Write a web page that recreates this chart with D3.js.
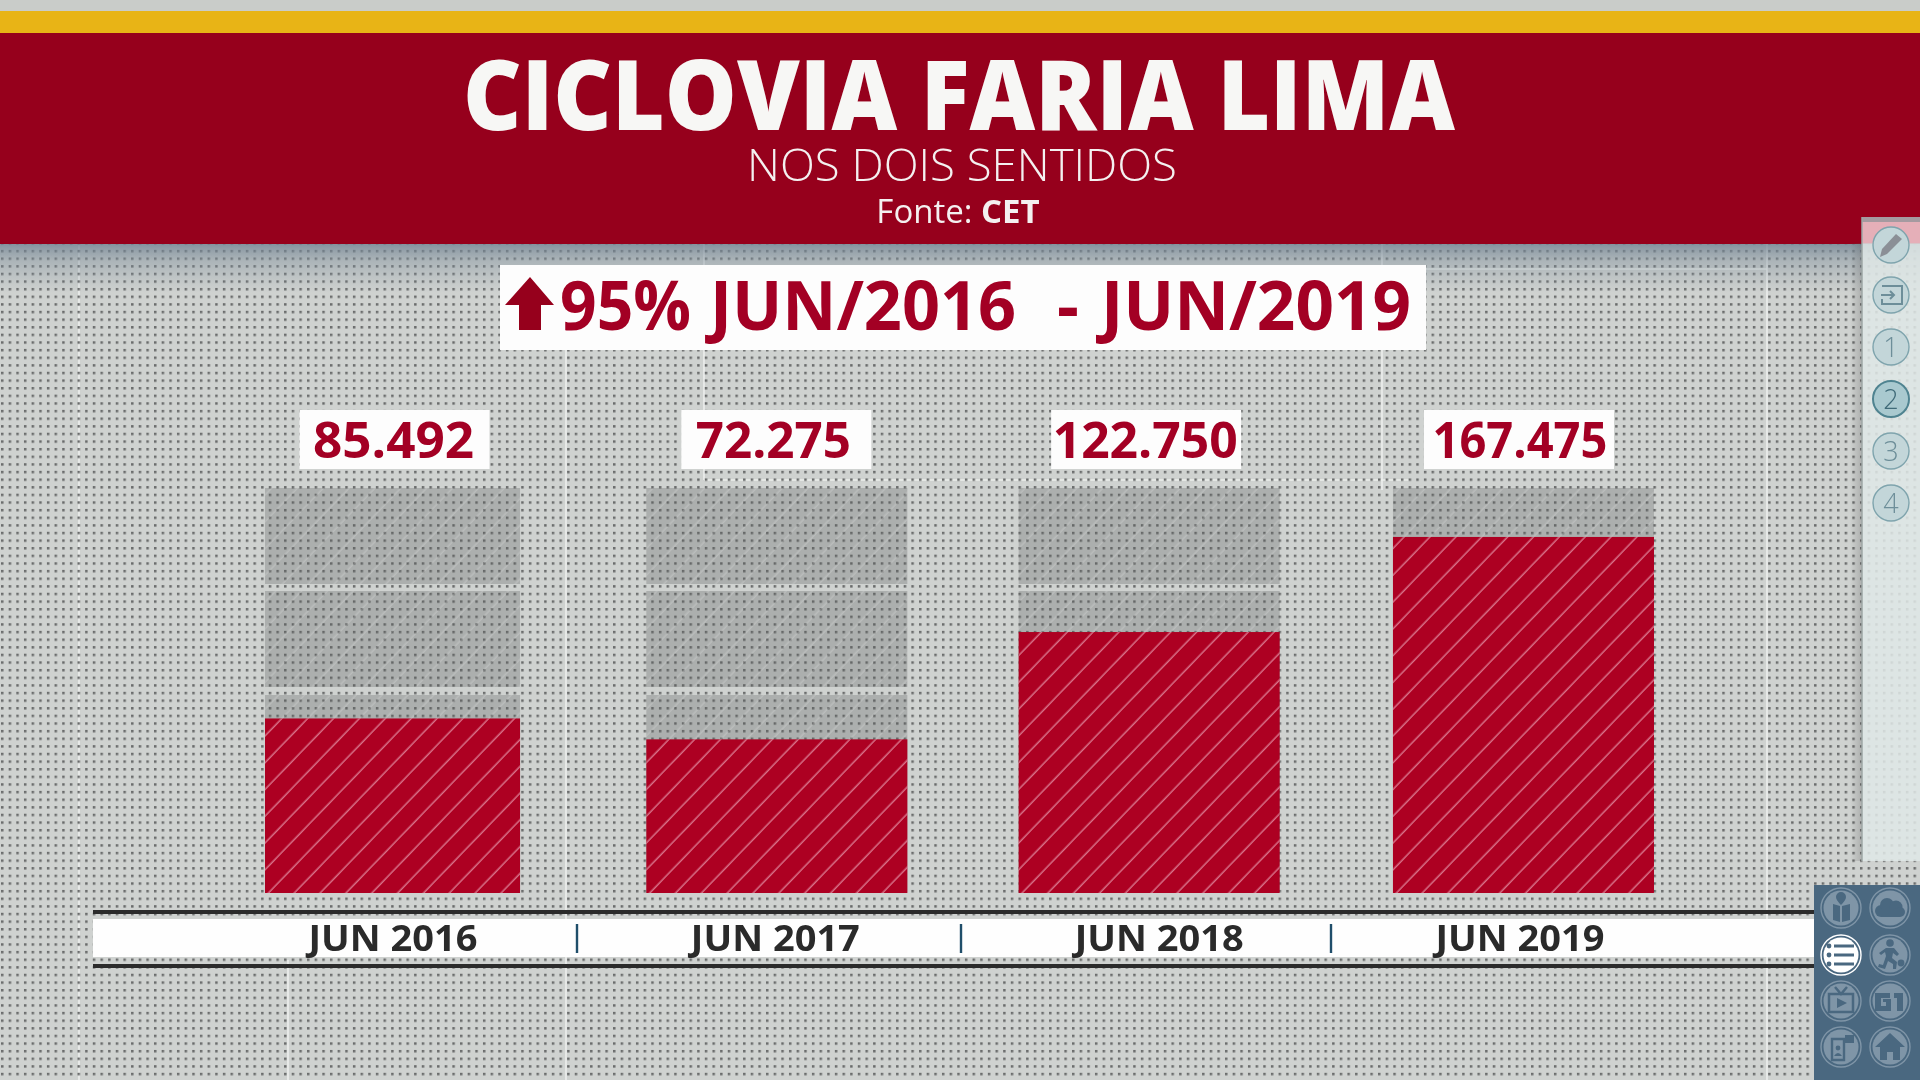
<!DOCTYPE html>
<html><head><meta charset="utf-8">
<script src="https://cdn.jsdelivr.net/npm/d3@7/dist/d3.min.js"></script>
<style>
html,body{margin:0;padding:0;background:#cdd0ce;overflow:hidden}
svg{display:block;filter:blur(.55px)}
text{font-family:"Open Sans",sans-serif}
</style></head><body>
<svg id="c" width="1920" height="1080"></svg>
<script>
// ---- data ----
const categories = ["JUN 2016","JUN 2017","JUN 2018","JUN 2019"];
const valueLabels = ["85.492","72.275","122.750","167.475"];
// heights, in cyclists per month (2016 is drawn a little short of its label)
const drawnValues = [82100,72275,122750,167475];
const trackBandTops = [190500,142050,93130];
const trackBandBottoms = [145340,96900,0];
const title = "CICLOVIA FARIA LIMA";
const subtitle = "NOS DOIS SENTIDOS";
const sourceLabel = "Fonte: ";
const sourceName = "CET";
const calloutParts = ["95%","JUN/2016","-","JUN/2019"];
const sideSteps = ["1","2","3","4"];
const activeStep = "2";

// ---- layout ----
const W=1920,H=1080;
const barNudge=[0,5,1,-1], barWiden=[-5,1,1,1];
const valueBoxNudge=[-0.5,-1,-3,-4], valueTextNudge=[-1,-3,-1,1];
const axisNudge=[-2,-2,10,-3];
const calloutX=[560,710,1057,1101], calloutW=[131,306,0,310];
const svg=d3.select("#c");
const x=d3.scaleBand().domain(categories).range([265,1654]).paddingInner(.309);
const y=d3.scaleLinear().domain([0,190500]).range([893,488]);
const RED="#96001c",BAR="#ad0022",INK="#a30024";
const defs=svg.append("defs");

const dots=defs.append("pattern").attr("id","dots").attr("patternUnits","userSpaceOnUse")
  .attr("width",7.65).attr("height",7.62).attr("x",1).attr("y",6);
dots.append("rect").attr("width",2.5).attr("height",2.5).attr("fill","#6a6c6c");

function hatch(id,col,op,w){
  const p=defs.append("pattern").attr("id",id).attr("patternUnits","userSpaceOnUse")
    .attr("width",18.6).attr("height",18.6).attr("patternTransform","rotate(-46) translate(3,0)");
  p.append("line").attr("x1",0).attr("x2",18.6).attr("y1",9).attr("y2",9)
    .attr("stroke",col).attr("stroke-opacity",op).attr("stroke-width",w);
}
hatch("hatchRed","#f2b6c6",.72,1.3);
hatch("hatchGrey","#ffffff",.2,1.3);

const sh=defs.append("linearGradient").attr("id","shadow").attr("x1",0).attr("x2",0).attr("y1",0).attr("y2",1);
sh.append("stop").attr("offset",0).attr("stop-color","#6f8191").attr("stop-opacity",.8);
sh.append("stop").attr("offset",.35).attr("stop-color","#7f8f9b").attr("stop-opacity",.45);
sh.append("stop").attr("offset",1).attr("stop-color","#8a98a2").attr("stop-opacity",0);
const ps=defs.append("linearGradient").attr("id","panelShadow");
ps.append("stop").attr("offset",0).attr("stop-color","#555").attr("stop-opacity",0);
ps.append("stop").attr("offset",1).attr("stop-color","#555").attr("stop-opacity",.28);

// background
svg.append("rect").attr("width",W).attr("height",H).attr("fill","#cfd2d0");
const guides=svg.append("g").attr("stroke","#f1f3f1").attr("stroke-width",1.6).attr("stroke-opacity",.85);
[[79,243,79,1080],[566,350,566,1080],[704,243,704,480],[1382,243,1382,490],[1767,243,1767,1080],[288,960,288,1080]]
 .concat([[704,480,1410,480],[1382,269,1767,269]])
 .forEach(g=>guides.append("line").attr("x1",g[0]).attr("y1",g[1]).attr("x2",g[2]).attr("y2",g[3]));
svg.append("rect").attr("y",243).attr("width",W).attr("height",H-243).attr("fill","url(#dots)");

// header
svg.append("rect").attr("width",W).attr("height",11).attr("fill","#c9ccc9");
svg.append("rect").attr("y",11).attr("width",W).attr("height",22).attr("fill","#e8b416");
svg.append("rect").attr("y",243).attr("width",W).attr("height",50).attr("fill","url(#shadow)");
svg.append("rect").attr("y",33).attr("width",W).attr("height",211).attr("fill",RED);
svg.append("text").attr("x",959).attr("y",130).attr("text-anchor","middle").attr("font-size",98).attr("font-weight",800)
  .attr("fill","#f7f7f5").attr("textLength",992).attr("lengthAdjust","spacingAndGlyphs").text(title);
svg.append("text").attr("x",962).attr("y",181).attr("text-anchor","middle").attr("font-size",45).attr("font-weight",300)
  .attr("fill","#f4f0f0").attr("textLength",430).attr("lengthAdjust","spacingAndGlyphs").text(subtitle);
const src=svg.append("text").attr("x",958).attr("y",223).attr("text-anchor","middle").attr("font-size",33).attr("fill","#f4f0f0");
src.append("tspan").attr("font-weight",400).text(sourceLabel);
src.append("tspan").attr("font-weight",700).text(sourceName);

// callout
svg.append("rect").attr("x",500).attr("y",265).attr("width",926).attr("height",85).attr("fill","#fdfdfd");
svg.append("path").attr("fill",RED).attr("d","M530 277L554 305H541V330H519V305H505Z");
calloutParts.forEach((t,i)=>{
  const e=svg.append("text").attr("x",calloutX[i]).attr("y",330).attr("font-size",68).attr("font-weight",700).attr("fill",INK).text(t);
  if(calloutW[i]) e.attr("textLength",calloutW[i]).attr("lengthAdjust","spacingAndGlyphs");
});

// tracks and bars
const bw=i=>x.bandwidth()+barWiden[i];
const bars=svg.append("g").selectAll("g").data(categories).join("g")
  .attr("transform",(d,i)=>`translate(${x(d)+barNudge[i]},0)`);
trackBandTops.forEach((t,k)=>{
  bars.append("rect").attr("width",(d,i)=>bw(i)).attr("y",y(t)).attr("height",y(trackBandBottoms[k])-y(t))
    .attr("fill","#5e605f").attr("fill-opacity",.3);
  bars.append("rect").attr("width",(d,i)=>bw(i)).attr("y",y(t)).attr("height",y(trackBandBottoms[k])-y(t))
    .attr("fill","url(#hatchGrey)");
});
bars.append("rect").attr("width",(d,i)=>bw(i)).attr("y",(d,i)=>y(drawnValues[i])).attr("height",(d,i)=>y(0)-y(drawnValues[i])).attr("fill",BAR);
bars.append("rect").attr("width",(d,i)=>bw(i)).attr("y",(d,i)=>y(drawnValues[i])).attr("height",(d,i)=>y(0)-y(drawnValues[i])).attr("fill","url(#hatchRed)");

// value labels
const vl=svg.append("g").selectAll("g").data(categories).join("g")
  .attr("transform",(d,i)=>`translate(${x(d)+x.bandwidth()/2+valueBoxNudge[i]+[0,6,1.5,-1][i]},0)`);
vl.append("rect").attr("x",-95).attr("y",410).attr("width",190).attr("height",59).attr("fill","#fdfdfd");
vl.append("text").attr("text-anchor","middle").attr("x",(d,i)=>valueTextNudge[i]).attr("y",458).attr("font-size",50).attr("font-weight",700).attr("fill",INK)
  .attr("textLength",(d,i)=>[161,155,185,175][i]).attr("lengthAdjust","spacingAndGlyphs")
  .text((d,i)=>valueLabels[i]);

// axis strip
svg.append("rect").attr("x",93).attr("y",919).attr("width",1722).attr("height",38).attr("fill","#fefefe");
[912,966].forEach(v=>svg.append("rect").attr("x",93).attr("y",v-2).attr("width",1722).attr("height",4).attr("fill","#2b2b2b"));
const axis=svg.append("g").attr("transform","translate(0,951)").call(d3.axisBottom(x).tickSize(0).tickPadding(0));
axis.select(".domain").remove();
axis.selectAll("text").attr("dy",0).attr("y",0).attr("font-size",35).attr("font-weight",700).attr("fill","#2a2a2a")
  .attr("font-family","'Open Sans',sans-serif")
  .attr("transform",(d,i)=>`translate(${[0,6,1.5,-1][i]+axisNudge[i]},0)`)
  .attr("textLength",169).attr("lengthAdjust","spacingAndGlyphs");
[577,961,1331].forEach(sx=>{
  svg.append("line").attr("x1",sx).attr("x2",sx).attr("y1",924).attr("y2",953).attr("stroke","#1f4e6a").attr("stroke-width",2.4);
});

// right side panel
svg.append("rect").attr("x",1850).attr("y",243).attr("width",12).attr("height",618).attr("fill","url(#panelShadow)");
svg.append("rect").attr("x",1862).attr("y",217).attr("width",58).attr("height",644).attr("fill","#dfe8e6").attr("fill-opacity",.86);
svg.append("rect").attr("x",1862).attr("y",217).attr("width",58).attr("height",5).attr("fill","#a59aa0");
svg.append("rect").attr("x",1862).attr("y",222).attr("width",58).attr("height",21).attr("fill","#e9a9b3").attr("fill-opacity",.8);
svg.append("line").attr("x1",1862).attr("x2",1862).attr("y1",217).attr("y2",861).attr("stroke","#9ea7a6").attr("stroke-width",1.5);
const SC="#7fa4ad",SI="#6d8e99";
function sideCircle(cy,active){
  return svg.append("g").attr("transform",`translate(1891,${cy})`).call(g=>g.append("circle").attr("r",18)
    .attr("fill",active?"#a9c9cf":"#c3d6d9").attr("stroke",active?"#4f8390":SC).attr("stroke-width",active?2:1.4));
}
const pen=sideCircle(245,false);
pen.append("path").attr("fill","#8b8f96").attr("d","M-11 12L-9 4L5 -11L11 -6L-4 9Z");
const ent=sideCircle(295,false);
ent.append("path").attr("fill","none").attr("stroke",SI).attr("stroke-width",2).attr("d","M-9 -9H11V9H-9V4M-10 0H3M-1 -4L3 0L-1 4");
sideSteps.forEach((s,i)=>{
  const g=sideCircle(347+52*i,s===activeStep);
  g.append("text").attr("text-anchor","middle").attr("y",10).attr("font-size",27).attr("font-weight",300)
    .attr("fill",s===activeStep?"#3f6a78":SI).text(s);
});

// bottom navigation panel
svg.append("rect").attr("x",1814).attr("y",885).attr("width",106).attr("height",195).attr("fill","#4a6880");
const NAVC="#7f95a7",NAVI="#4a6880";
function nav(cx,cy,active){
  const g=svg.append("g").attr("transform",`translate(${cx},${cy})`);
  g.append("circle").attr("r",20).attr("fill","none").attr("stroke",active?"#fff":NAVC).attr("stroke-width",1.4);
  g.append("circle").attr("r",17.5).attr("fill",active?"#fff":NAVC);
  return g;
}
nav(1841,908).append("path").attr("fill",NAVI).attr("d","M-8 -4L-1 -2V14L-8 12ZM1 -2L9 -4V12L1 14ZM0 -16A5 5 0 0 1 5 -11Q5 -8 0 -3Q-5 -8 -5 -11A5 5 0 0 1 0 -16Z");
const cloud=nav(1890,908);
[[-9,3,6],[-3,-3,7],[6,-1,6.5],[10,4,5]].forEach(c=>cloud.append("circle").attr("cx",c[0]).attr("cy",c[1]).attr("r",c[2]).attr("fill",NAVI));
cloud.append("rect").attr("x",-9).attr("y",1).attr("width",19).attr("height",8).attr("fill",NAVI);
const list=nav(1841,955,true);
[-9,0,9].forEach(v=>{
  list.append("circle").attr("cx",-12).attr("cy",v).attr("r",2.4).attr("fill",NAVI);
  list.append("rect").attr("x",-7).attr("y",v-1.5).attr("width",20).attr("height",3).attr("fill",NAVI);
});
const ball=nav(1890,955);
ball.append("circle").attr("cx",0).attr("cy",-12).attr("r",3.8).attr("fill",NAVI);
ball.append("circle").attr("cx",11).attr("cy",8).attr("r",3.4).attr("fill",NAVI);
ball.append("path").attr("fill",NAVI).attr("d","M-4 -7H4L9 -1L7 1L3 -2L2 3L7 7L6 14H3L3 9L-2 6L-5 14L-12 12L-11 9L-7 10L-4 1L-5 -3L-9 0L-11 -2Z");
const tv=nav(1841,1001);
tv.append("path").attr("fill","none").attr("stroke",NAVI).attr("stroke-width",2.5).attr("d","M-12 -7H12V11H-12ZM-6 -14L0 -7L6 -14");
tv.append("path").attr("fill",NAVI).attr("d","M-4 -3L6 2L-4 7Z");
const g1=nav(1890,1001);
g1.append("path").attr("fill",NAVI).attr("d","M-15 -8H0V-3H-9V5H-4V1H-7V-2H1V10H-15ZM4 -8H13V10H7V-3H4Z");
const dev=nav(1841,1047);
dev.append("path").attr("fill","none").attr("stroke",NAVI).attr("stroke-width",2.4).attr("d","M-9 -8H3V13H-9Z");
dev.append("circle").attr("cx",-3).attr("cy",1).attr("r",2.4).attr("fill",NAVI);
dev.append("path").attr("fill",NAVI).attr("d","M-7 9Q-3 3 1 9ZM4 -12H13V-4H4Z");
nav(1890,1047).append("path").attr("fill",NAVI).attr("d","M0 -14L15 0H10V13H3V5H-3V13H-10V0H-15Z");
</script>
</body></html>
